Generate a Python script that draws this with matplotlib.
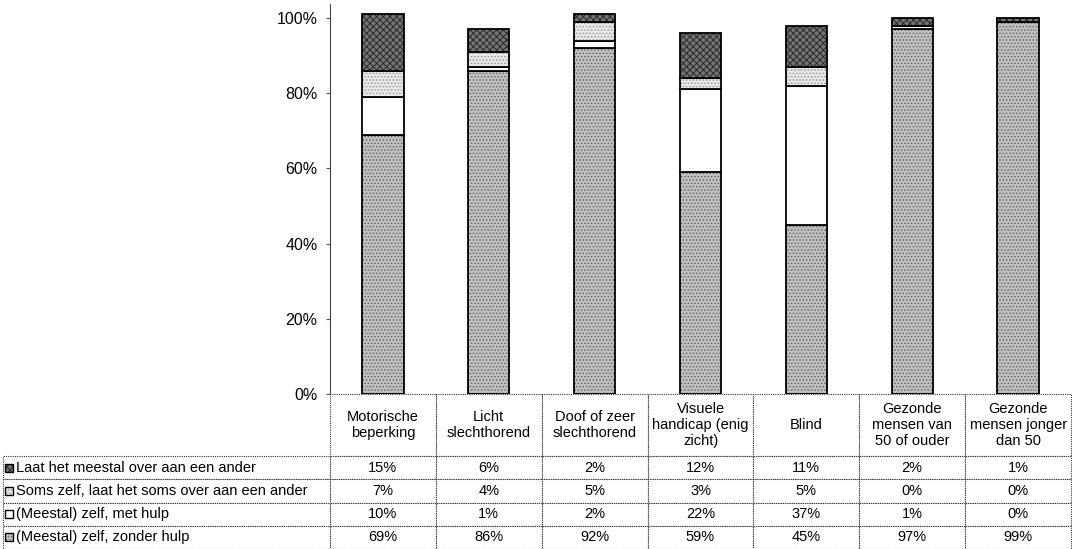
import matplotlib
matplotlib.use('Agg')
import matplotlib.pyplot as plt
from matplotlib.patches import Rectangle
import numpy as np

plt.rcParams['font.family'] = ['Liberation Sans', 'DejaVu Sans']
plt.rcParams['hatch.linewidth'] = 0.7

# data (table rows from top to bottom, bars stacked bottom to top in reverse)
categories = ['Motorische\nbeperking', 'Licht\nslechthorend', 'Doof of zeer\nslechthorend',
              'Visuele\nhandicap (enig\nzicht)', 'Blind', 'Gezonde\nmensen van\n50 of ouder',
              'Gezonde\nmensen jonger\ndan 50']
series_names = ['Laat het meestal over aan een ander',
                'Soms zelf, laat het soms over aan een ander',
                '(Meestal) zelf, met hulp',
                '(Meestal) zelf, zonder hulp']
laat = [15, 6, 2, 12, 11, 2, 1]
soms = [7, 4, 5, 3, 5, 0, 0]
met_hulp = [10, 1, 2, 22, 37, 1, 0]
zonder_hulp = [69, 86, 92, 59, 45, 97, 99]
yticks = [0, 0.2, 0.4, 0.6, 0.8, 1.0]

series = [laat, soms, met_hulp, zonder_hulp]
# fill / hatch / hatch colour for each series, same order as series_names
styles = [('#747474', 'xxxxx', '#2a2a2a'),
          ('#e8e8e8', '.....', '#9a9a9a'),
          ('white', None, 'white'),
          ('#c2c2c2', '.....', '#666666')]

W, H = 1072, 549
fig = plt.figure(figsize=(W / 100, H / 100), dpi=100)
ax_left, ax_right, ax_zero, ax_top = 330, 1071, 394, 3
ax = fig.add_axes([ax_left / W, (H - ax_zero) / H, (ax_right - ax_left) / W, (ax_zero - ax_top) / H])

x = np.arange(len(categories))
bottom = np.zeros(len(categories))
for vals, (fc, hatch, hc) in zip(series[::-1], styles[::-1]):
    v = np.array(vals) / 100
    ax.bar(x, v, 0.39, bottom=bottom, color=fc, hatch=hatch, edgecolor=hc, linewidth=0)
    ax.bar(x, v, 0.39, bottom=bottom, fill=False, edgecolor='black', linewidth=1.3)
    bottom += v

ax.set_xlim(-0.5, len(categories) - 0.5)
ax.set_ylim(0, 1.04)
ax.set_yticks(yticks)
ax.set_yticklabels(['%d%%' % round(t * 100) for t in yticks], fontsize=11.5)
ax.tick_params(axis='y', length=3, pad=6, color='#555555')
ax.set_xticks([])
for s in ['top', 'right', 'bottom']:
    ax.spines[s].set_visible(False)
ax.spines['left'].set_linestyle((0, (1, 1)))
ax.spines['left'].set_color('#444444')

# data table below the chart
cell_text = [[name] + ['%d%%' % v for v in vals] for name, vals in zip(series_names, series)]
label_w = ax_left - 3
col_w = (ax_right - ax_left) / len(categories)
bbox_h = (H - ax_zero) / (ax_zero - ax_top)
tbl = ax.table(cellText=cell_text, colLabels=[''] + categories,
               colWidths=[label_w] + [col_w] * len(categories), cellLoc='center',
               bbox=[-label_w / (ax_right - ax_left), -bbox_h, 1 + label_w / (ax_right - ax_left), bbox_h])
tbl.auto_set_font_size(False)
header_h, row_h = 62, (H - ax_zero - 62) / 4
for (r, c), cell in tbl.get_celld().items():
    cell.set_linestyle((0, (1, 1)))
    cell.set_edgecolor('#333333')
    cell.set_linewidth(0.8)
    cell.set_height(header_h if r == 0 else row_h)
    cell.get_text().set_fontsize(10.5)
    if r == 0 and c == 0:
        cell.visible_edges = ''
    if c == 0 and r > 0:
        cell.get_text().set_horizontalalignment('left')
        cell.PAD = 13 / label_w

# legend keys in front of the row labels
for i, (fc, hatch, hc) in enumerate(styles):
    yc = ax_zero + header_h + row_h * (i + 0.5)
    fig.patches.append(Rectangle((5 / W, (H - yc - 4) / H), 8 / W, 8 / H, transform=fig.transFigure,
                                 facecolor=fc, hatch=hatch, edgecolor=hc, linewidth=0))
    fig.patches.append(Rectangle((5 / W, (H - yc - 4) / H), 8 / W, 8 / H, transform=fig.transFigure,
                                 fill=False, edgecolor='black', linewidth=1))

fig.savefig('out.png', dpi=100)
